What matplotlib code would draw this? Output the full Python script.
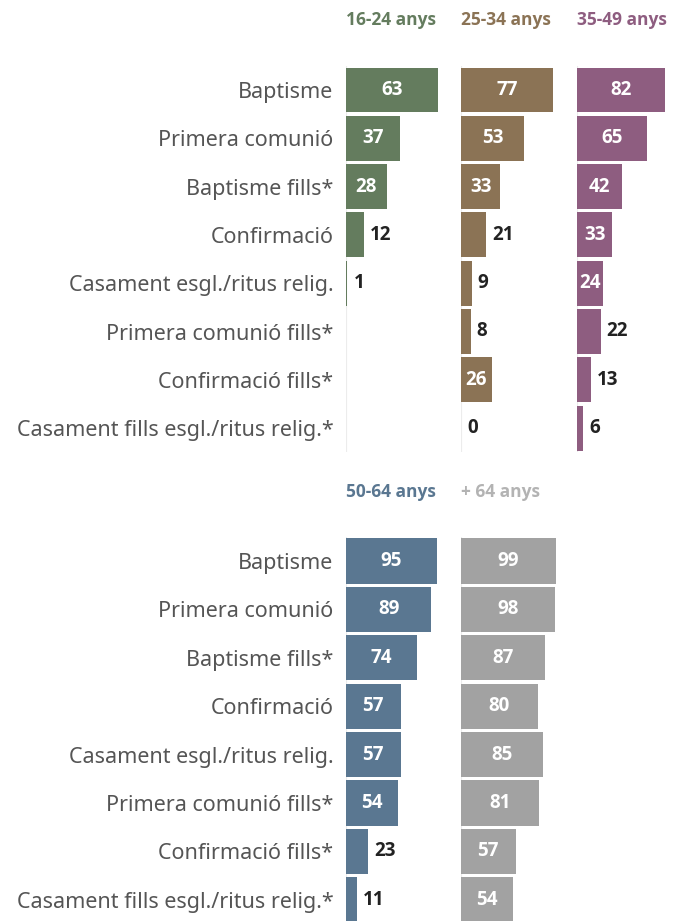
import matplotlib.pyplot as plt

# Ritus religiosos per franja d'edat (%)
categories = [
    "Baptisme",
    "Primera comunió",
    "Baptisme fills*",
    "Confirmació",
    "Casament esgl./ritus relig.",
    "Primera comunió fills*",
    "Confirmació fills*",
    "Casament fills esgl./ritus relig.*",
]

anys_16_24 = [63, 37, 28, 12, 1, None, None, None]
anys_25_34 = [77, 53, 33, 21, 9, 8, 26, 0]
anys_35_49 = [82, 65, 42, 33, 24, 22, 13, 6]
anys_50_64 = [95, 89, 74, 57, 57, 54, 23, 11]
anys_64_mes = [99, 98, 87, 80, 85, 81, 57, 54]

headers = ["16-24 anys", "25-34 anys", "35-49 anys", "50-64 anys", "+ 64 anys"]
colors = ["#647c5e", "#8b7355", "#8e5d80", "#5a7791", "#a2a2a2"]
header_colors = ["#647c5e", "#8b7355", "#8e5d80", "#5a7791", "#b3b3b3"]

W, H = 682, 921
fig = plt.figure(figsize=(W / 100, H / 100), dpi=100)
plt.rcParams['font.family'] = ['Noto Sans', 'DejaVu Sans']
BOLD = ['Open Sans', 'Lato', 'DejaVu Sans']


def px_axes(left, top, width, height):
    return fig.add_axes([left / W, 1 - (top + height) / H, width / W, height / H])


def draw_column(ax, values, color, xmax, px_per_unit, show_labels):
    n = len(categories)
    for i, v in enumerate(values):
        if v is None:
            continue
        if v > 0:
            ax.barh(i, max(v, 1.2 / px_per_unit), height=0.93, color=color,
                    edgecolor='none')
        bar_px = v * px_per_unit
        if bar_px >= 25:
            ax.text(v / 2, i, str(v), ha='center', va='center', color='white',
                    fontsize=13.5, fontweight='bold', family=BOLD)
        else:
            ax.text(v + 6 / px_per_unit, i, str(v), ha='left', va='center',
                    color='#222222', fontsize=13.5, fontweight='bold', family=BOLD)
    ax.axvline(0, color='#ececec', linewidth=0.8, zorder=0)
    ax.set_xlim(0, xmax)
    ax.set_ylim(n - 0.5, -0.5)
    ax.set_xticks([])
    for s in ax.spines.values():
        s.set_visible(False)
    if show_labels:
        ax.set_yticks(range(n))
        ax.set_yticklabels(categories, fontsize=15.5, color='#555555')
        ax.tick_params(axis='y', length=0, pad=9)
    else:
        ax.set_yticks([])


col_left = [346, 461, 577]
col_w = 110
row_step = 48.3

# panell superior
top_data = [anys_16_24, anys_25_34, anys_35_49]
top_scale = [1.46, 1.19, 1.07]
for k in range(3):
    ax = px_axes(col_left[k], 90 - row_step / 2, col_w, row_step * 8)
    draw_column(ax, top_data[k], colors[k], col_w / top_scale[k], top_scale[k], k == 0)
    fig.text(col_left[k] / W, 1 - 20 / H, headers[k], ha='left', va='center',
             color=header_colors[k], fontsize=12.5, fontweight='bold', family=BOLD)

# panell inferior
bottom_data = [anys_50_64, anys_64_mes]
row_step_b = 48.4
for k in range(2):
    ax = px_axes(col_left[k], 561 - row_step_b / 2, col_w, row_step_b * 8)
    draw_column(ax, bottom_data[k], colors[3 + k], col_w / 0.96, 0.96, k == 0)
    fig.text(col_left[k] / W, 1 - 492 / H, headers[3 + k], ha='left', va='center',
             color=header_colors[3 + k], fontsize=12.5, fontweight='bold', family=BOLD)

fig.savefig("out.png", dpi=100, facecolor='white')
